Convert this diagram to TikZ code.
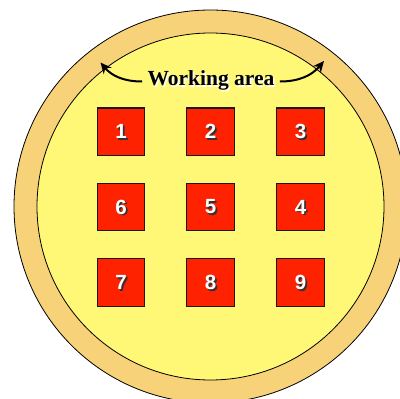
\documentclass[tikz,border=0pt]{standalone}
\usepackage{fontspec}
\setmainfont{Liberation Serif}
\newfontfamily\numfont{Liberation Sans}
\usetikzlibrary{arrows.meta}
\definecolor{ringc}{HTML}{F8D278}
\definecolor{innerc}{HTML}{FFF876}
\definecolor{boxc}{HTML}{FF2200}
\tikzset{
  cell/.style={draw=black!90, line width=1.1pt, fill=boxc, minimum size=47.5pt, inner sep=0pt},
  num/.style={font=\numfont\fontsize{20.5}{21}\selectfont\bfseries, text=white},
  numsh/.style={font=\numfont\fontsize{20.5}{21}\selectfont\bfseries, text=black!80},
  arr/.style={line width=2pt, -{Stealth[length=11pt,width=10pt]}},
}
\begin{document}
\begin{tikzpicture}[x=1pt,y=-1pt]
\useasboundingbox (0,0) rectangle (400,399);
\clip (0,0) rectangle (400,399);
\coordinate (c) at (210.5,206.5);
\draw[fill=ringc, line width=0.8pt] (c) circle[radius=196.5];
\draw[fill=innerc, line width=0.8pt] (c) circle[radius=173.5];
\node[font=\fontsize{21.5}{22}\selectfont\bfseries, text=white] at (212.5,82) {Working area};
\node[font=\fontsize{21.5}{22}\selectfont\bfseries, text=black] (wa) at (211,80) {Working area};
\coordinate (la) at (100.5,62.5);
\coordinate (ra) at (324,61);
\draw[arr] ([xshift=-2pt,yshift=-1.5pt]wa.west) to[out=180,in=-50] (la);
\draw[arr] ([xshift=2pt,yshift=-1.5pt]wa.east) to[out=0,in=-130] (ra);
\foreach \n/\x/\y in {1/121/131.7, 2/210.5/131.7, 3/300.5/131.7,
                      6/121/207, 5/210.5/207, 4/300.5/207,
                      7/121/282.3, 8/210.5/282.3, 9/300.5/282.3}{
  \node[cell] (b\n) at (\x,\y) {};
  \node[numsh] at (\x+1.8,\y+1.8) {\n};
  \node[num] (t\n) at (b\n) {\n};
}
\end{tikzpicture}
\end{document}
